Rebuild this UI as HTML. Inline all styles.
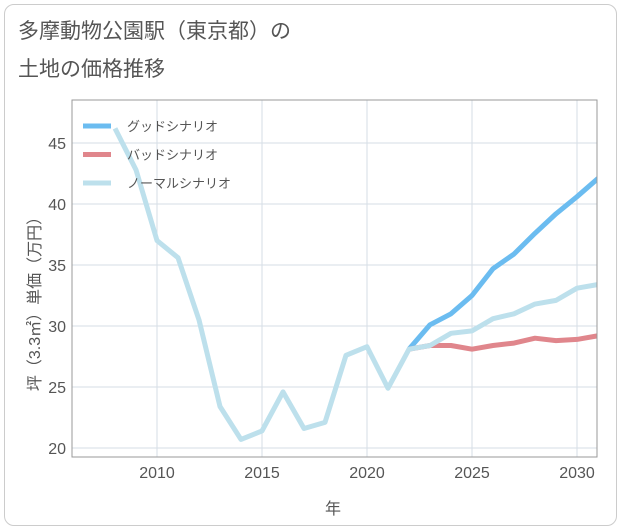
<!DOCTYPE html>
<html><head><meta charset="utf-8"><style>
body{margin:0;background:#fff;font-family:"Liberation Sans","Noto Sans CJK JP",sans-serif;}
#card{position:absolute;left:4px;top:4px;width:611px;height:520px;border:1px solid #ccc;border-radius:10px;}
</style></head><body>
<div id="card"></div>
<svg id="c" width="621" height="530" style="position:absolute;left:0;top:0">
<text x="18" y="38" font-size="21" fill="#555">多摩動物公園駅（東京都）の</text>
<text x="18" y="76" font-size="21" fill="#555">土地の価格推移</text>
<text x="333" y="514" font-size="16" fill="#555" text-anchor="middle">年</text>
<text transform="translate(40,300) rotate(-90)" font-size="16" fill="#555" text-anchor="middle">坪（3.3㎡）単価（万円）</text>
<g id="grid"></g><g id="lines"></g>
<rect x="72" y="100" width="525" height="357" fill="none" stroke="#999" stroke-width="1"/>
<g id="legend"></g>
</svg>
<script>
const xTicks=[2010,2015,2020,2025,2030];
const yTicks=[20,25,30,35,40,45];
const normYears=[2008,2009,2010,2011,2012,2013,2014,2015,2016,2017,2018,2019,2020,2021,2022,2023,2024,2025,2026,2027,2028,2029,2030,2031];
const normVals=[46.2,42.8,37,35.6,30.5,23.4,20.7,21.4,24.6,21.6,22.1,27.6,28.3,24.9,28.1,28.4,29.4,29.6,30.6,31.0,31.8,32.1,33.1,33.4];
const futYears=[2022,2023,2024,2025,2026,2027,2028,2029,2030,2031];
const goodVals=[28.1,30.1,31.0,32.5,34.7,35.9,37.6,39.2,40.6,42.1];
const badVals=[28.1,28.4,28.4,28.1,28.4,28.6,29.0,28.8,28.9,29.2];
const X=y=>157+(y-2010)*21, Y=v=>448-(v-20)*12.2;
const NS='http://www.w3.org/2000/svg';
function mk(t,a,p){const e=document.createElementNS(NS,t);for(const k in a)e.setAttribute(k,a[k]);p.appendChild(e);return e;}
const g=document.getElementById('grid');
xTicks.forEach(t=>{const l=mk('line',{x1:X(t),x2:X(t),y1:100,y2:457,stroke:'#d5dde5'},g);


const tx=mk('text',{x:X(t),y:478,'font-size':16,fill:'#555','text-anchor':'middle'},g);tx.textContent=t;

});
yTicks.forEach(t=>{const l=mk('line',{x1:72,x2:597,y1:Y(t),y2:Y(t),stroke:'#d5dde5'},g);


const tx=mk('text',{x:66,y:Y(t)+6,'font-size':16,fill:'#555','text-anchor':'end'},g);tx.textContent=t;

});
const L=document.getElementById('lines');
mk('clipPath',{id:'cp'},L).appendChild(Object.assign(document.createElementNS(NS,'rect'),{}));
document.querySelector('#cp rect').setAttribute('x',72);document.querySelector('#cp rect').setAttribute('y',100);
document.querySelector('#cp rect').setAttribute('width',525);document.querySelector('#cp rect').setAttribute('height',357);
function line(ys,vs,col,name){const p=mk('polyline',{points:ys.map((y,i)=>X(y)+','+Y(vs[i])).join(' '),fill:'none',stroke:col,'stroke-width':5,'stroke-linejoin':'round','clip-path':'url(#cp)'},L);

}
line(futYears,goodVals,'#6bbcf0','good-scenario-line');
line(futYears,badVals,'#e0868c','bad-scenario-line');
line(normYears,normVals,'#bde0ec','normal-scenario-line');
const lg=document.getElementById('legend');
[['グッドシナリオ','#6bbcf0'],['バッドシナリオ','#e0868c'],['ノーマルシナリオ','#bde0ec']].forEach((d,i)=>{
const y=126+i*28.5;
const r=mk('line',{x1:83,x2:111,y1:y,y2:y,stroke:d[1],'stroke-width':5},lg);


const t=mk('text',{x:127,y:y+5,'font-size':13,fill:'#555'},lg);t.textContent=d[0];

});
</script>
</body></html>
